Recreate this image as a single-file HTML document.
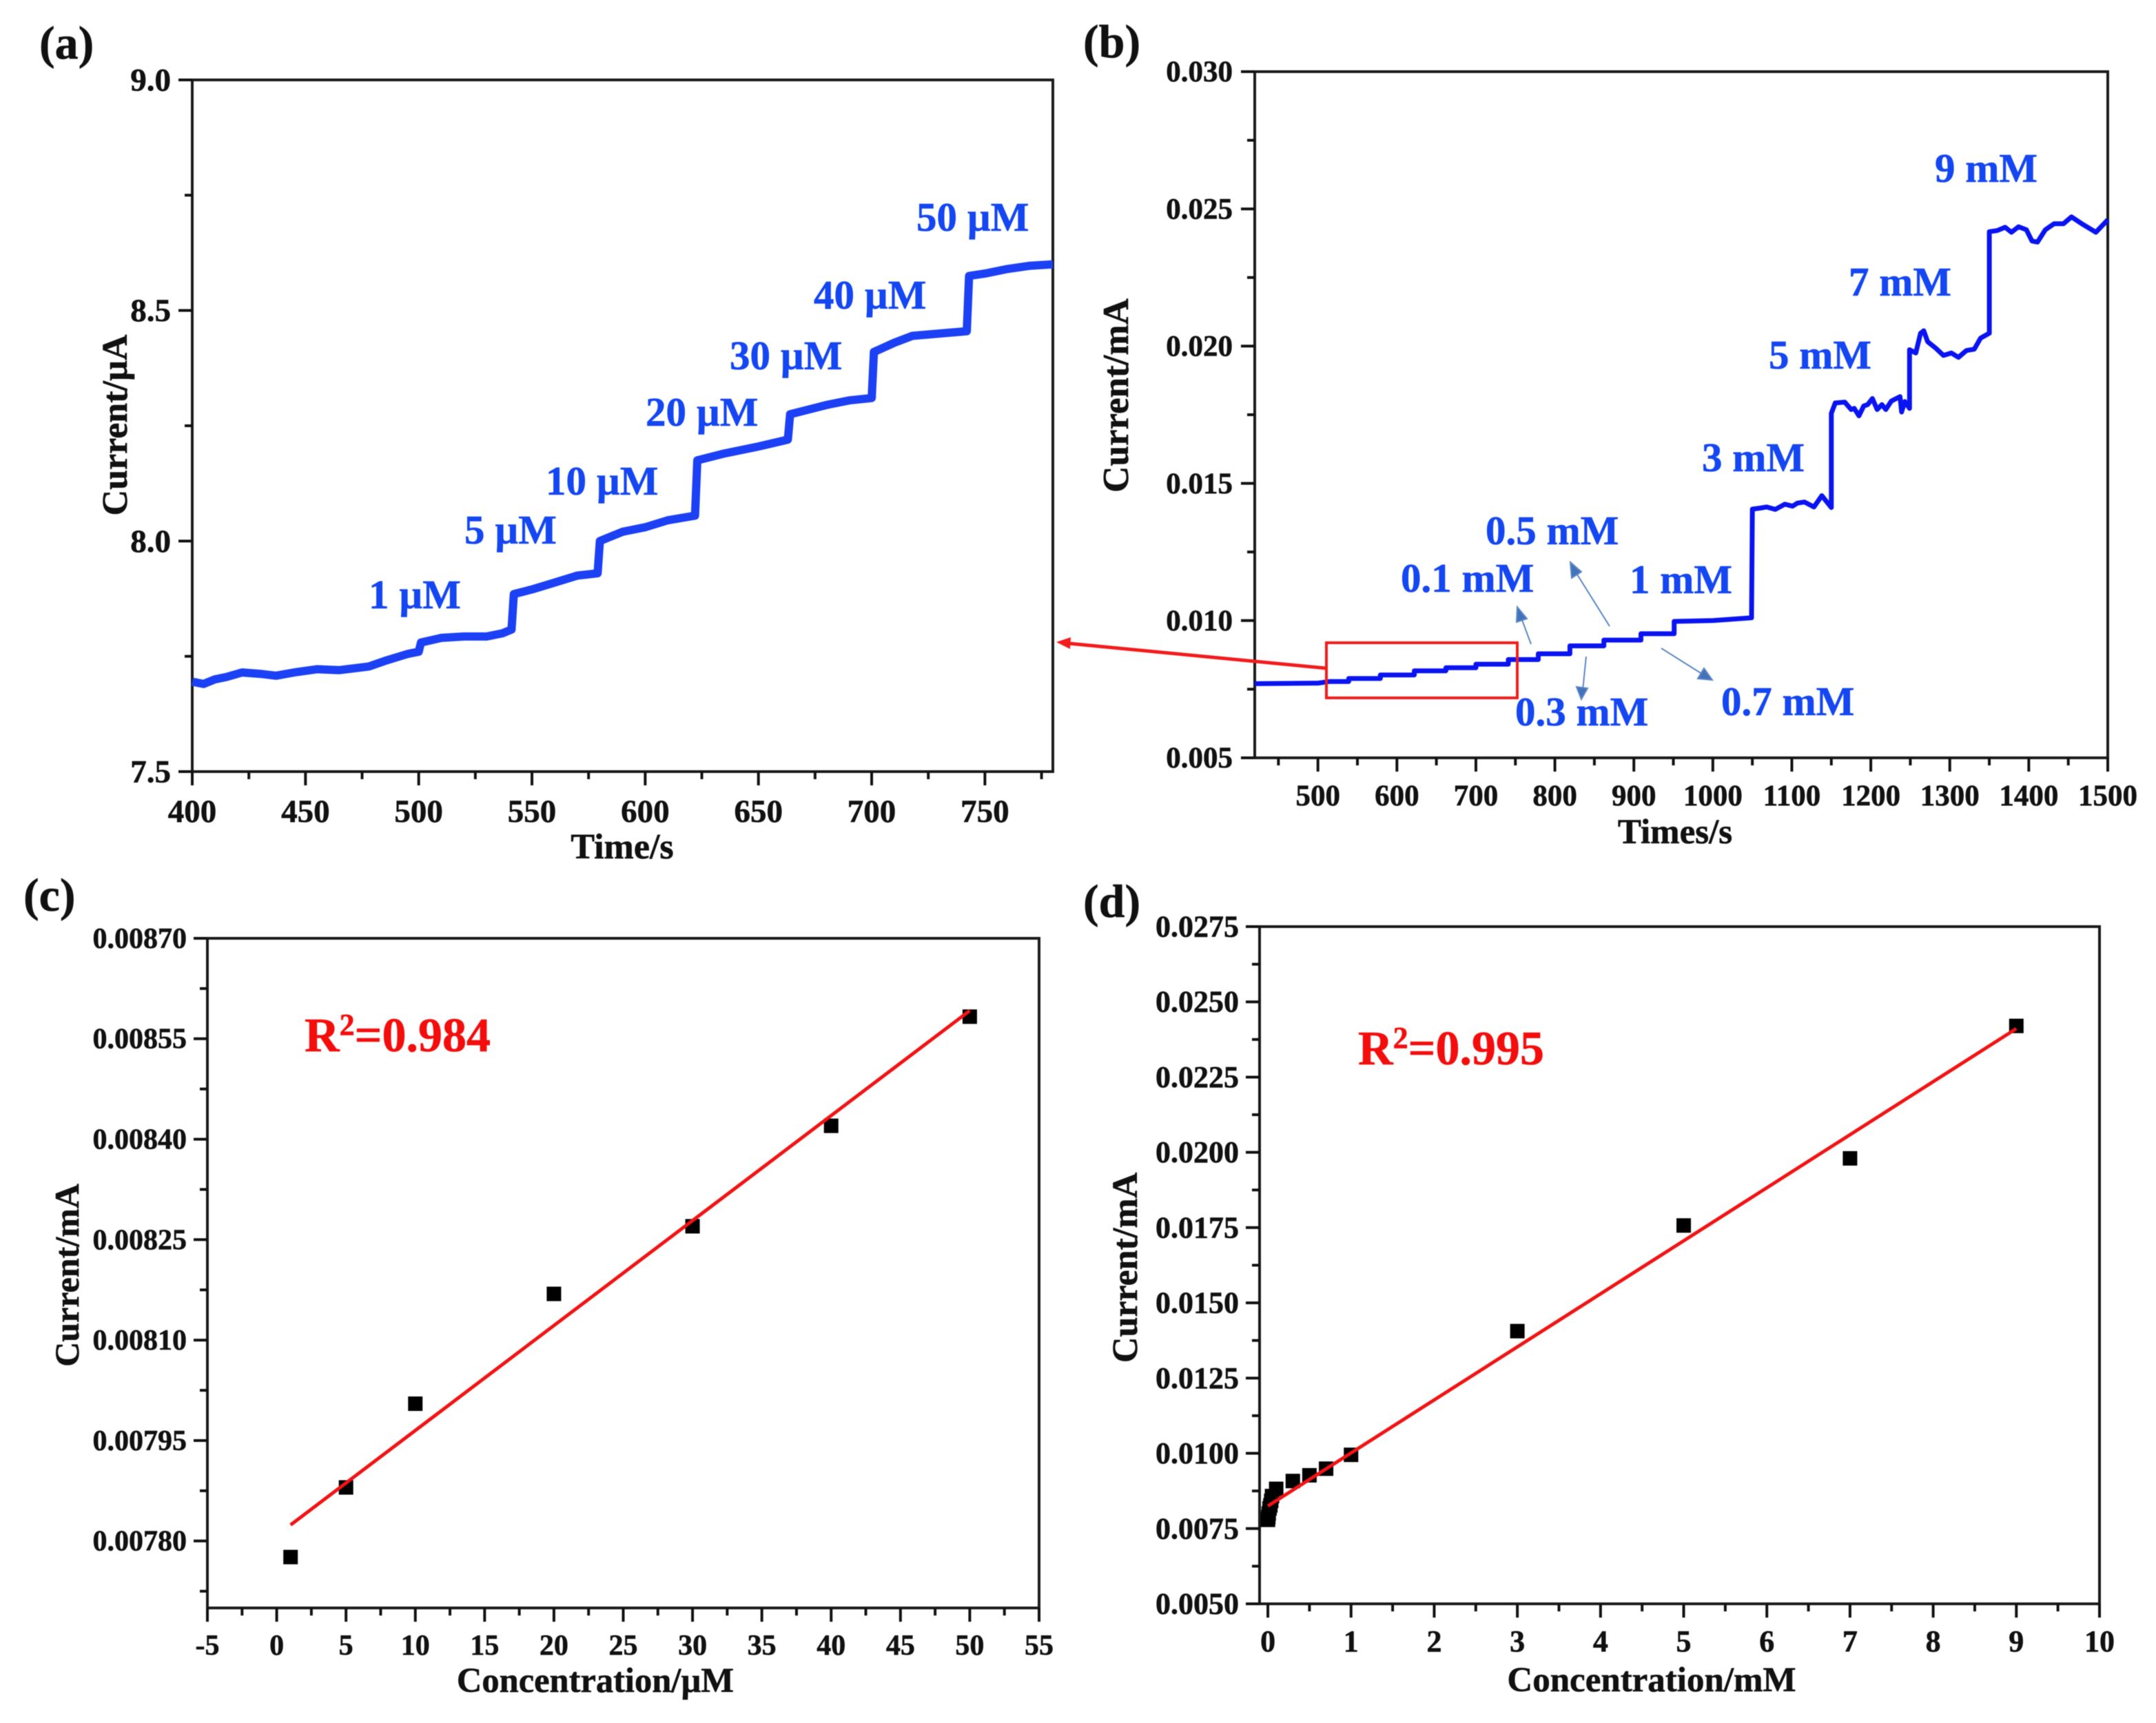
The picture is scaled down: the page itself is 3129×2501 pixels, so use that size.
<!DOCTYPE html>
<html lang="en">
<head>
<meta charset="utf-8">
<title>Amperometric response and calibration curves</title>
<style>
html,body{margin:0;padding:0;background:#fff;}
svg{display:block;filter:blur(0.6px);}
text{font-family:"Liberation Serif",serif;font-weight:bold;fill:#111;stroke:#111;stroke-width:0.6px;}
.blue{fill:#1446f2;stroke:#1446f2;font-size:59px;}
.red{fill:#f40d0d;stroke:#f40d0d;font-size:70px;}
.panel{font-size:68px;}
</style>
</head>
<body>
<svg id="figure" xmlns="http://www.w3.org/2000/svg" width="3129" height="2501" viewBox="0 0 3129 2501">
<rect x="0" y="0" width="3129" height="2501" fill="#fff"/>
<g id="panel-a"></g>
<g id="panel-b"></g>
<g id="panel-c"></g>
<g id="panel-d"></g>

<g>
<text class="panel" x="57" y="85">(a)</text>
<text class="panel" x="1572" y="83">(b)</text>
<text class="panel" x="34" y="1322">(c)</text>
<text class="panel" x="1572" y="1331">(d)</text>
</g>

<g>
<text class="blue" x="535" y="883">1 µM</text>
<text class="blue" x="674" y="789">5 µM</text>
<text class="blue" x="792" y="718">10 µM</text>
<text class="blue" x="937" y="618">20 µM</text>
<text class="blue" x="1059" y="536">30 µM</text>
<text class="blue" x="1181" y="448">40 µM</text>
<text class="blue" x="1330" y="335">50 µM</text>
</g>

<g>
<text class="blue" x="2033" y="859">0.1 mM</text>
<text class="blue" x="2156" y="790">0.5 mM</text>
<text class="blue" x="2365" y="861">1 mM</text>
<text class="blue" x="2199" y="1053">0.3 mM</text>
<text class="blue" x="2498" y="1038">0.7 mM</text>
<text class="blue" x="2470" y="684">3 mM</text>
<text class="blue" x="2567" y="535">5 mM</text>
<text class="blue" x="2683" y="429">7 mM</text>
<text class="blue" x="2808" y="264">9 mM</text>

<g fill="#4472b8" stroke="#5a86c6" stroke-width="2">
<path fill="none" d="M2222 935L2206 892"/>
<path d="M2202 881L2216 898L2201 903Z"/>
<path fill="none" d="M2336 909L2284 826"/>
<path d="M2279 816L2295 830L2281 839Z"/>
<path fill="none" d="M2302 953L2297 1002"/>
<path d="M2295 1015L2288 997L2304 999Z"/>
<path fill="none" d="M2411 941L2473 980"/>
<path d="M2485 987L2464 985L2473 970Z"/>
</g>

<rect x="1925" y="933" width="277" height="80" fill="none" stroke="#f21c1c" stroke-width="4"/>
<path d="M1925 970L1552 934" fill="none" stroke="#f21c1c" stroke-width="5"/>
<path d="M1533 932L1554 925L1553 942Z" fill="#f21c1c"/>
</g>

<text class="red" x="442" y="1526">R<tspan font-size="44" dy="-24">2</tspan><tspan dy="24">=0.984</tspan></text>
<text class="red" x="1971" y="1545">R<tspan font-size="44" dy="-24">2</tspan><tspan dy="24">=0.995</tspan></text>
</svg>

<script>
// Panel (a)
const aTimes = [400,405,410,415,422,430,437,445,455,465,478,485,495,500,501,510,520,530,537,541,542,550,560,570,579,580,590,600,610,622,623,635,650,663,664,680,690,700,701,710,718,730,742,743,750,760,770,780];
const aCurrents = [7.695,7.69,7.70,7.705,7.715,7.712,7.708,7.715,7.722,7.72,7.728,7.74,7.755,7.76,7.78,7.79,7.793,7.793,7.80,7.808,7.885,7.895,7.91,7.925,7.93,8.0,8.02,8.03,8.045,8.055,8.175,8.19,8.205,8.22,8.275,8.295,8.305,8.31,8.41,8.43,8.445,8.45,8.455,8.575,8.58,8.59,8.597,8.6];
const aXTicks = [400,450,500,550,600,650,700,750];
const aXTickLabels = ["400","450","500","550","600","650","700","750"];
const aYTicks = [7.5,8.0,8.5,9.0];
const aYTickLabels = ["7.5","8.0","8.5","9.0"];

// Panel (b)
const bTimes = [420,500,515,539,539,579,579,622,622,662,662,700,700,741,741,779,779,819,819,862,862,909,909,951,951,1000,1049,1050,1060,1068,1079,1091,1101,1107,1116,1128,1138,1150,1150,1155,1167,1175,1179,1185,1191,1196,1202,1208,1214,1219,1226,1237,1239,1243,1249,1249,1257,1263,1267,1272,1282,1292,1302,1311,1321,1331,1339,1350,1350,1360,1370,1378,1387,1397,1404,1411,1421,1432,1444,1454,1467,1485,1500];
const bCurrents = [0.0077,0.00772,0.00778,0.00778,0.00789,0.00789,0.00802,0.00802,0.00817,0.00817,0.00828,0.00828,0.00841,0.00841,0.00858,0.00858,0.00879,0.00879,0.00908,0.00908,0.00929,0.00929,0.00952,0.00952,0.00997,0.01,0.0101,0.01406,0.0141,0.01414,0.01405,0.01424,0.01417,0.01428,0.01432,0.01414,0.01455,0.01412,0.01755,0.01793,0.01796,0.01769,0.01773,0.01746,0.01782,0.01787,0.01809,0.01769,0.01787,0.01769,0.018,0.01816,0.0176,0.01798,0.01773,0.01987,0.01975,0.02047,0.02056,0.02016,0.01993,0.01966,0.01975,0.01959,0.01984,0.01989,0.02029,0.02047,0.02417,0.02421,0.02433,0.02415,0.02435,0.02424,0.02383,0.02379,0.02424,0.02446,0.02446,0.02471,0.02446,0.02415,0.0246];
const bXTicks = [500,600,700,800,900,1000,1100,1200,1300,1400,1500];
const bXTickLabels = ["500","600","700","800","900","1000","1100","1200","1300","1400","1500"];
const bYTicks = [0.005,0.01,0.015,0.02,0.025,0.03];
const bYTickLabels = ["0.005","0.010","0.015","0.020","0.025","0.030"];

// Panel (c)
const cConc = [1,5,10,20,30,40,50];
const cCurrents = [0.007776,0.00788,0.008005,0.008169,0.00827,0.00842,0.008583];
const cFitConc = [1,50];
const cFitCurrents = [0.007824,0.008592];
const cXTicks = [-5,0,5,10,15,20,25,30,35,40,45,50,55];
const cXTickLabels = ["-5","0","5","10","15","20","25","30","35","40","45","50","55"];
const cYTicks = [0.0078,0.00795,0.0081,0.00825,0.0084,0.00855,0.0087];
const cYTickLabels = ["0.00780","0.00795","0.00810","0.00825","0.00840","0.00855","0.00870"];

// Panel (d)
const dConc = [0.001,0.005,0.01,0.02,0.03,0.04,0.05,0.1,0.3,0.5,0.7,1,3,5,7,9];
const dCurrents = [0.00779,0.00788,0.008,0.00817,0.00827,0.00842,0.00858,0.00882,0.00908,0.00927,0.00949,0.00995,0.01406,0.01757,0.0198,0.0242];
const dFitConc = [0,9];
const dFitCurrents = [0.00825,0.02411];
const dXTicks = [0,1,2,3,4,5,6,7,8,9,10];
const dXTickLabels = ["0","1","2","3","4","5","6","7","8","9","10"];
const dYTicks = [0.005,0.0075,0.01,0.0125,0.015,0.0175,0.02,0.0225,0.025,0.0275];
const dYTickLabels = ["0.0050","0.0075","0.0100","0.0125","0.0150","0.0175","0.0200","0.0225","0.0250","0.0275"];

const NS = "http://www.w3.org/2000/svg";

function make(tag, attrs, parent) {
  const n = document.createElementNS(NS, tag);
  for (const k in attrs) n.setAttribute(k, attrs[k]);
  parent.appendChild(n);
  return n;
}

function linear(d0, d1, r0, r1) {
  return function (v) { return r0 + (v - d0) / (d1 - d0) * (r1 - r0); };
}

function drawAxes(g, o) {
  const sx = o.sx, sy = o.sy;
  const frame = make("rect", {x:o.left, y:o.top, width:o.right-o.left, height:o.bottom-o.top, fill:"none", stroke:"#1a1a1a", "stroke-width":4}, g);
  
  

  o.xTicks.forEach(function (v, i) {
    const t = make("line", {x1:sx(v), x2:sx(v), y1:o.bottom, y2:o.bottom+o.major, stroke:"#111", "stroke-width":4}, g);
    
    
    const l = make("text", {x:sx(v), y:o.xLabelY, "text-anchor":"middle", "font-size":o.xFont}, g);
    
    
    l.textContent = o.xLabels[i];
  });
  for (let i = 0; i < o.xMinorCount; i++) {
    const v = o.xMinorStart + i * o.xMinorStep;
    const t = make("line", {x1:sx(v), x2:sx(v), y1:o.bottom, y2:o.bottom+o.minor, stroke:"#111", "stroke-width":4}, g);
    
    
  }
  o.yTicks.forEach(function (v, i) {
    const t = make("line", {x1:o.left-o.major, x2:o.left, y1:sy(v), y2:sy(v), stroke:"#111", "stroke-width":4}, g);
    
    
    const l = make("text", {x:o.left-o.major-o.yLabelGap, y:sy(v)+o.yFont*0.33, "text-anchor":"end", "font-size":o.yFont}, g);
    
    
    l.textContent = o.yLabels[i];
  });
  for (let i = 0; i < o.yMinorCount; i++) {
    const v = o.yMinorStart + i * o.yMinorStep;
    const t = make("line", {x1:o.left-o.minor, x2:o.left, y1:sy(v), y2:sy(v), stroke:"#111", "stroke-width":4}, g);
    
    
  }

  const xt = make("text", {x:o.xTitleX, y:o.xTitleY, "text-anchor":"middle", "font-size":o.xTitleFont}, g);
  
  
  xt.textContent = o.xTitle;

  const yt = make("text", {transform:"translate("+o.yTitleX+","+o.yTitleY+") rotate(-90)", "text-anchor":"middle", "font-size":o.yTitleFont}, g);
  
  
  yt.textContent = o.yTitle;
}

function polyPath(xs, ys, sx, sy) {
  return xs.map(function (v, i) {
    return (i ? "L" : "M") + sx(v).toFixed(1) + " " + sy(ys[i]).toFixed(1);
  }).join("");
}

function drawTrace(g, xs, ys, sx, sy, color, width) {
  const p = make("path", {d:polyPath(xs, ys, sx, sy), fill:"none", stroke:color, "stroke-width":width, "stroke-linejoin":"round", "stroke-linecap":"butt"}, g);
  
  
}

function drawPoints(g, xs, ys, sx, sy, size) {
  xs.forEach(function (v, i) {
    const r = make("rect", {x:sx(v)-size/2, y:sy(ys[i])-size/2, width:size, height:size, fill:"#000"}, g);
    
    
  });
}

function drawFit(g, xs, ys, sx, sy) {
  const p = make("path", {d:polyPath(xs, ys, sx, sy), fill:"none", stroke:"#f01414", "stroke-width":5}, g);
  
  
}

// Panel a
(function () {
  const g = document.getElementById("panel-a");
  const left = 279, right = 1528, top = 116, bottom = 1120;
  const sx = linear(400, 780, left, right), sy = linear(7.5, 9, bottom, top);
  drawAxes(g, {left, right, top, bottom, sx, sy, major:20, minor:11, yLabelGap:11,
    xTicks:aXTicks, xLabels:aXTickLabels, xMinorStart:425, xMinorStep:50, xMinorCount:8,
    yTicks:aYTicks, yLabels:aYTickLabels, yMinorStart:7.75, yMinorStep:0.5, yMinorCount:3,
    xFont:47, yFont:47, xTitleFont:52, yTitleFont:52, xLabelY:1193, xTitle:"Time/s", xTitleX:903, xTitleY:1246,
    yTitle:"Current/µA", yTitleX:184, yTitleY:617});
  drawTrace(g, aTimes, aCurrents, sx, sy, "#1c40f4", 12);
})();

// Panel b
(function () {
  const g = document.getElementById("panel-b");
  const left = 1821, right = 3059, top = 104, bottom = 1100;
  const sx = linear(420, 1500, left, right), sy = linear(0.005, 0.03, bottom, top);
  drawAxes(g, {left, right, top, bottom, sx, sy, major:20, minor:11, yLabelGap:12,
    xTicks:bXTicks, xLabels:bXTickLabels, xMinorStart:450, xMinorStep:100, xMinorCount:11,
    yTicks:bYTicks, yLabels:bYTickLabels, yMinorStart:0.0075, yMinorStep:0.005, yMinorCount:5,
    xFont:43, yFont:43, xTitleFont:51, yTitleFont:53, xLabelY:1169, xTitle:"Times/s", xTitleX:2431, xTitleY:1224,
    yTitle:"Current/mA", yTitleX:1637, yTitleY:574});
  drawTrace(g, bTimes, bCurrents, sx, sy, "#0a14f0", 7);
})();

// Panel c
(function () {
  const g = document.getElementById("panel-c");
  const left = 301, right = 1508, top = 1362, bottom = 2334;
  const sx = linear(-5, 55, left, right), sy = linear(0.0077, 0.0087, bottom, top);
  drawAxes(g, {left, right, top, bottom, sx, sy, major:20, minor:11, yLabelGap:10,
    xTicks:cXTicks, xLabels:cXTickLabels, xMinorStart:-2.5, xMinorStep:5, xMinorCount:12,
    yTicks:cYTicks, yLabels:cYTickLabels, yMinorStart:0.007725, yMinorStep:0.00015, yMinorCount:7,
    xFont:42, yFont:42, xTitleFont:50.5, yTitleFont:50, xLabelY:2402, xTitle:"Concentration/µM", xTitleX:864, xTitleY:2456,
    yTitle:"Current/mA", yTitleX:114, yTitleY:1851});
  drawPoints(g, cConc, cCurrents, sx, sy, 21);
  drawFit(g, cFitConc, cFitCurrents, sx, sy);
})();

// Panel d
(function () {
  const g = document.getElementById("panel-d");
  const left = 1828, right = 3047, top = 1345, bottom = 2328;
  const sx = linear(-0.1, 10, left, right), sy = linear(0.005, 0.0275, bottom, top);
  drawAxes(g, {left, right, top, bottom, sx, sy, major:20, minor:11, yLabelGap:10,
    xTicks:dXTicks, xLabels:dXTickLabels, xMinorStart:0.5, xMinorStep:1, xMinorCount:10,
    yTicks:dYTicks, yLabels:dYTickLabels, yMinorStart:0.00625, yMinorStep:0.0025, yMinorCount:9,
    xFont:44, yFont:44, xTitleFont:51, yTitleFont:52, xLabelY:2397, xTitle:"Concentration/mM", xTitleX:2397, xTitleY:2455,
    yTitle:"Current/mA", yTitleX:1650, yTitleY:1840});
  drawPoints(g, dConc, dCurrents, sx, sy, 21);
  drawFit(g, dFitConc, dFitCurrents, sx, sy);
})();
</script>
</body>
</html>
